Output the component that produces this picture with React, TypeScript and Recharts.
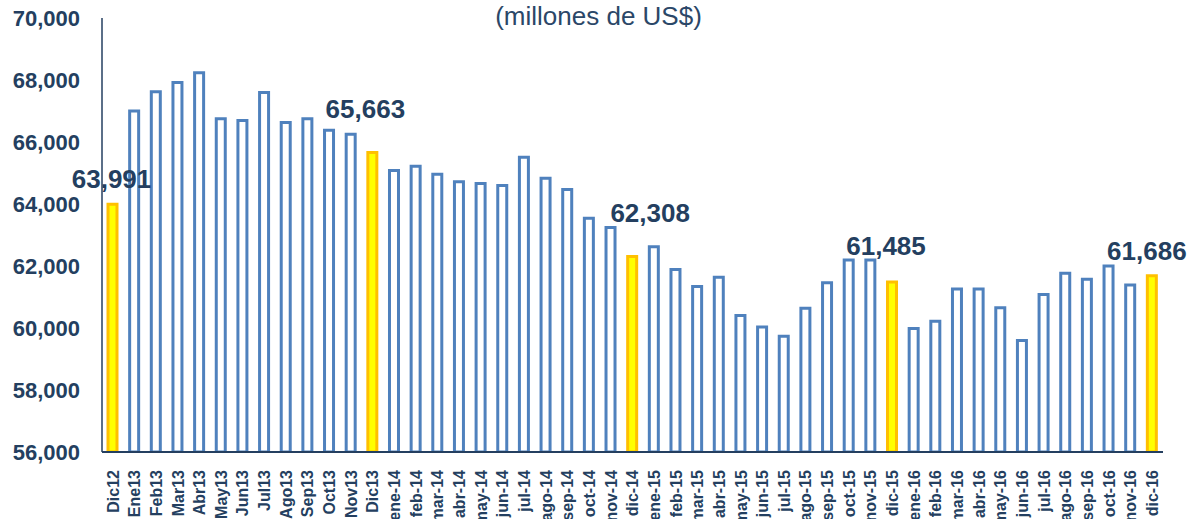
import React from "react";
import {
  BarChart,
  Bar,
  XAxis,
  YAxis,
  Cell,
  LabelList,
} from "recharts";

const months = [
  "Dic12", "Ene13", "Feb13", "Mar13", "Abr13", "May13", "Jun13", "Jul13",
  "Ago13", "Sep13", "Oct13", "Nov13", "Dic13",
  "ene-14", "feb-14", "mar-14", "abr-14", "may-14", "jun-14", "jul-14",
  "ago-14", "sep-14", "oct-14", "nov-14", "dic-14",
  "ene-15", "feb-15", "mar-15", "abr-15", "may-15", "jun-15", "jul-15",
  "ago-15", "sep-15", "oct-15", "nov-15", "dic-15",
  "ene-16", "feb-16", "mar-16", "abr-16", "may-16", "jun-16", "jul-16",
  "ago-16", "sep-16", "oct-16", "nov-16", "dic-16",
];

const reserves = [
  63991, 67000, 67620, 67920, 68230, 66750, 66690, 67600,
  66630, 66750, 66380, 66250, 65663,
  65080, 65220, 64960, 64720, 64660, 64600, 65510,
  64830, 64470, 63540, 63240, 62308,
  62620, 61890, 61340, 61640, 60400, 60030, 59730,
  60640, 61460, 62190, 62190, 61485,
  59980, 60220, 61260, 61260, 60650, 59600, 61080,
  61770, 61570, 62000, 61390, 61686,
];

const yTicks = [56000, 58000, 60000, 62000, 64000, 66000, 68000, 70000];

const NAVY = "#243F60";
const BLUE = "#4F81BD";

// December bars are highlighted and labelled
const isDec = (m: string) => m.toLowerCase().startsWith("dic");

// nudges so each label sits where it does in the original slide
const labelNudge: Record<number, [number, number]> = {
  0: [-1, -16],
  12: [-7, -34],
  24: [18, -34],
  36: [-6, -27],
  48: [-5, -16],
};

const data = months.map((m, i) => ({ month: m, value: reserves[i] }));

const fmt = (v: number) => v.toLocaleString("en-US");

function MonthTick(props: any) {
  const { x, y, payload } = props;
  return (
    <text
      x={x}
      y={y + 10}
      transform={`rotate(-90, ${x}, ${y + 10})`}
      textAnchor="end"
      dy="0.36em"
      fill={NAVY}
      fontSize={16}
      fontWeight="bold"
      fontFamily="'Liberation Sans', Arial, sans-serif"
    >
      {payload.value}
    </text>
  );
}

function DecLabel(props: any) {
  const { x, y, width, value, index } = props;
  if (!isDec(months[index])) return null;
  const [dx, dy] = labelNudge[index] ?? [0, -20];
  return (
    <text
      x={x + width / 2 + dx}
      y={y + dy}
      textAnchor="middle"
      fill={NAVY}
      fontSize={26}
      fontWeight="bold"
      fontFamily="'Liberation Sans', Arial, sans-serif"
    >
      {fmt(value)}
    </text>
  );
}

export default function App() {
  return (
    <div
      style={{
        position: "absolute",
        left: 0,
        top: 0,
        width: 1197,
        height: 519,
        background: "#fff",
        fontFamily: "'Liberation Sans', Arial, sans-serif",
      }}
    >
      <div
        style={{
          position: "absolute",
          top: 3,
          left: 0,
          width: 1197,
          textAlign: "center",
          fontSize: 26,
          lineHeight: "26px",
          color: "#2B4768",
        }}
      >
        (millones de US$)
      </div>
      <BarChart
        width={1197}
        height={519}
        data={data}
        margin={{ top: 18, right: 34, bottom: 0, left: 0 }}
        barCategoryGap={0}
      >
        <XAxis
          dataKey="month"
          interval={0}
          height={67}
          axisLine={{ stroke: NAVY, strokeWidth: 2 }}
          tickLine={false}
          tick={<MonthTick />}
        />
        <YAxis
          domain={[56000, 70000]}
          ticks={yTicks}
          width={102}
          axisLine={{ stroke: NAVY, strokeWidth: 1.5 }}
          tickLine={false}
          tickSize={0}
          tickMargin={22}
          tickFormatter={fmt}
          tick={{
            fill: NAVY,
            fontSize: 22,
            fontWeight: "bold",
            fontFamily: "'Liberation Sans', Arial, sans-serif",
          }}
          allowDataOverflow
        />
        <Bar dataKey="value" barSize={9} strokeWidth={3} isAnimationActive={false}>
          {data.map((d, i) => (
            <Cell
              key={i}
              fill={isDec(d.month) ? "#FFFF00" : "#FFFFFF"}
              stroke={isDec(d.month) ? "#FFC000" : BLUE}
            />
          ))}
          <LabelList dataKey="value" content={<DecLabel />} />
        </Bar>
      </BarChart>
    </div>
  );
}
